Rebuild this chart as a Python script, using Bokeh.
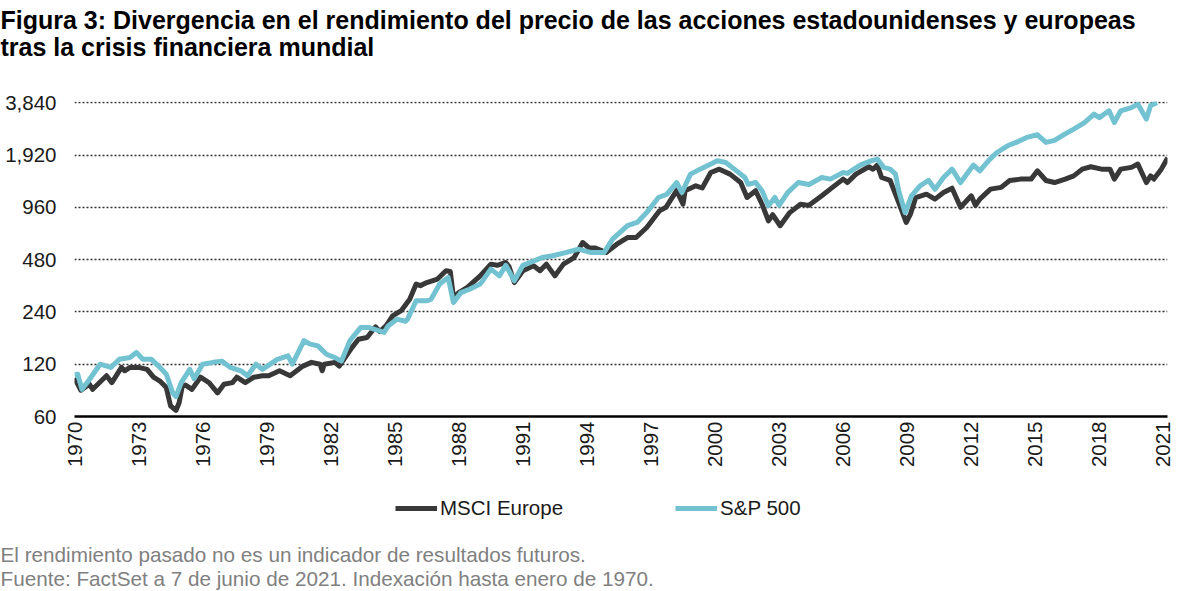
from math import pi

from bokeh.embed import file_html
from bokeh.layouts import column
from bokeh.models import FixedTicker
from bokeh.models import Legend
from bokeh.models import LegendItem
from bokeh.models import NumeralTickFormatter
from bokeh.models import Range1d
from bokeh.models import Title
from bokeh.plotting import figure
from bokeh.resources import INLINE

FONT = 'Liberation Sans'
EUROPE_COLOR = '#383838'
SP_COLOR = '#72c2d1'
NOTE_COLOR = '#808080'

TITLE_LINES = ['Figura 3: Divergencia en el rendimiento del precio de las acciones estadounidenses y europeas',
               'tras la crisis financiera mundial']
FOOTNOTES = ['El rendimiento pasado no es un indicador de resultados futuros.',
             'Fuente: FactSet a 7 de junio de 2021. Indexación hasta enero de 1970.']
SERIES_NAMES = ['MSCI Europe', 'S&P 500']

X_TICKS = list(range(1970, 2022, 3))
Y_TICKS = [60, 120, 240, 480, 960, 1920, 3840]

EUROPE_YEARS = [1970.0, 1970.3, 1970.7, 1970.85, 1971.5, 1971.75, 1972.2, 1972.35, 1972.6, 1973.0,
                1973.4, 1973.7, 1974.0, 1974.3, 1974.5, 1974.75, 1974.9, 1975.05, 1975.2, 1975.5,
                1975.9, 1976.3, 1976.7, 1977.0, 1977.4, 1977.6, 1978.0, 1978.4, 1978.8, 1979.1,
                1979.6, 1980.1, 1980.7, 1981.1, 1981.5, 1981.6, 1981.7, 1982.2, 1982.4, 1983.0,
                1983.3, 1983.7, 1984.1, 1984.3, 1984.6, 1984.9, 1985.3, 1985.7, 1986.0, 1986.2,
                1986.5, 1987.0, 1987.4, 1987.6, 1987.75, 1988.0, 1988.4, 1989.0, 1989.5, 1989.8,
                1990.2, 1990.35, 1990.6, 1991.0, 1991.5, 1991.8, 1992.1, 1992.5, 1992.9, 1993.4,
                1993.8, 1994.1, 1994.4, 1994.9, 1995.4, 1995.9, 1996.3, 1996.8, 1997.4, 1997.7,
                1998.2, 1998.5, 1998.6, 1999.1, 1999.4, 1999.8, 2000.2, 2000.7, 2001.2, 2001.5,
                2001.9, 2002.2, 2002.5, 2002.7, 2003.05, 2003.5, 2004.0, 2004.4, 2005.0, 2005.5,
                2006.0, 2006.2, 2006.6, 2007.2, 2007.4, 2007.6, 2007.8, 2008.2, 2008.45, 2008.75,
                2008.95, 2009.15, 2009.4, 2009.9, 2010.3, 2010.7, 2011.1, 2011.5, 2012.0, 2012.2,
                2012.4, 2012.9, 2013.4, 2013.8, 2014.3, 2014.8, 2015.1, 2015.5, 2015.9, 2016.4,
                2016.8, 2017.2, 2017.6, 2018.1, 2018.5, 2018.7, 2019.0, 2019.5, 2019.8, 2020.2,
                2020.4, 2020.55, 2020.9, 2021.2]
EUROPE_VALUES = [100, 85, 92, 86, 103, 94, 115, 110, 115, 115,
                 112, 101, 96, 88, 69, 65, 72, 90, 91, 86,
                 101, 94, 82, 92, 94, 101, 94, 101, 103, 103,
                 110, 103, 117, 123, 120, 110, 120, 123, 117, 150,
                 167, 171, 197, 185, 200, 228, 244, 284, 347, 340,
                 354, 371, 414, 410, 290, 310, 332, 387, 452, 445,
                 462, 438, 354, 414, 442, 414, 452, 387, 452, 493,
                 602, 560, 560, 527, 589, 643, 643, 735, 916, 960,
                 1196, 1000, 1196, 1276, 1240, 1523, 1592, 1490, 1333, 1093,
                 1196, 1000, 802, 870, 752, 895, 1000, 985, 1118, 1250,
                 1395, 1333, 1490, 1643, 1590, 1680, 1425, 1370, 1142, 916,
                 785, 877, 1093, 1142, 1070, 1167, 1237, 960, 1118, 985,
                 1070, 1222, 1250, 1370, 1395, 1395, 1557, 1370, 1333, 1395,
                 1456, 1592, 1643, 1592, 1592, 1395, 1592, 1630, 1702, 1333,
                 1456, 1395, 1592, 1850]

SP_YEARS = [1970.0, 1970.15, 1970.35, 1970.65, 1971.2, 1971.7, 1972.1, 1972.6, 1972.9, 1973.2,
            1973.6, 1974.0, 1974.3, 1974.6, 1974.75, 1975.0, 1975.4, 1975.6, 1976.0, 1976.5,
            1976.9, 1977.3, 1977.8, 1978.1, 1978.5, 1978.8, 1979.5, 1980.0, 1980.2, 1980.75,
            1981.0, 1981.4, 1981.8, 1982.2, 1982.5, 1982.9, 1983.4, 1983.8, 1984.5, 1984.7,
            1985.1, 1985.5, 1985.6, 1986.0, 1986.5, 1986.7, 1987.1, 1987.5, 1987.75, 1988.1,
            1988.5, 1989.0, 1989.5, 1989.9, 1990.2, 1990.6, 1991.0, 1991.9, 1992.4, 1993.0,
            1993.6, 1994.2, 1994.8, 1995.2, 1995.9, 1996.35, 1996.8, 1997.35, 1997.75, 1998.2,
            1998.45, 1998.85, 1999.3, 1999.8, 2000.1, 2000.5, 2000.9, 2001.4, 2001.55, 2001.9,
            2002.2, 2002.5, 2002.8, 2003.0, 2003.4, 2003.9, 2004.4, 2005.0, 2005.4, 2006.0,
            2006.2, 2006.8, 2007.3, 2007.6, 2007.9, 2008.2, 2008.45, 2008.6, 2008.9, 2009.2,
            2009.6, 2010.0, 2010.3, 2010.7, 2011.1, 2011.5, 2012.1, 2012.4, 2012.8, 2013.2,
            2013.7, 2014.1, 2014.6, 2015.1, 2015.5, 2015.9, 2016.4, 2016.8, 2017.3, 2017.75,
            2018.0, 2018.45, 2018.7, 2019.0, 2019.5, 2019.8, 2020.2, 2020.4, 2020.7]
SP_VALUES = [104, 105, 86, 96, 120, 115, 128, 131, 140, 128,
             128, 115, 105, 82, 78, 94, 112, 99, 120, 123,
             125, 115, 110, 103, 120, 112, 128, 134, 120, 164,
             157, 153, 137, 131, 125, 164, 195, 195, 183, 200,
             218, 212, 218, 278, 278, 284, 347, 379, 272, 310,
             324, 347, 423, 387, 445, 362, 445, 493, 505, 527,
             551, 527, 527, 630, 752, 785, 896, 1093, 1142, 1333,
             1167, 1490, 1592, 1702, 1778, 1740, 1592, 1425, 1300, 1333,
             1196, 980, 1093, 985, 1167, 1333, 1300, 1425, 1395, 1523,
             1505, 1680, 1778, 1818, 1630, 1592, 1490, 1196, 895, 1118,
             1276, 1370, 1220, 1425, 1592, 1333, 1680, 1557, 1778, 1985,
             2170, 2268, 2424, 2510, 2268, 2330, 2540, 2706, 2952, 3300,
             3150, 3450, 2952, 3450, 3600, 3770, 3090, 3700, 3840]

FRAME_LEFT = 74
FRAME_RIGHT_GAP = 8
FRAME_WIDTH = 1093


def add_title(plot, text, size, standoff, color='black', bold=False):
  # side panel titles stack outward from the frame in the order they are added
  plot.add_layout(Title(text=text, align='left', offset=-FRAME_LEFT, standoff=standoff,
                        text_font=FONT, text_font_size=size, text_color=color,
                        text_font_style='bold' if bold else 'normal'), 'above')


def blank_figure(frame_height) -> figure:
  plot = figure(frame_width=FRAME_WIDTH, frame_height=frame_height, output_backend='svg',
                toolbar_location=None, x_range=Range1d(0, 1), y_range=Range1d(0, 1),
                x_axis_location=None, y_axis_location=None, min_border_left=FRAME_LEFT,
                min_border_right=FRAME_RIGHT_GAP, min_border_top=0, min_border_bottom=0)
  plot.outline_line_color = None
  plot.grid.visible = False
  return plot


def get_chart() -> figure:
  plot = figure(frame_width=FRAME_WIDTH, frame_height=315, output_backend='svg',
                toolbar_location=None, y_axis_type='log', x_range=Range1d(1970, 2021.19),
                y_range=Range1d(60, 3902), min_border_left=FRAME_LEFT,
                min_border_right=FRAME_RIGHT_GAP, min_border_top=0, min_border_bottom=56)
  plot.outline_line_color = None

  plot.line(EUROPE_YEARS, EUROPE_VALUES, line_color=EUROPE_COLOR, line_width=5, line_join='round')
  plot.line(SP_YEARS, SP_VALUES, line_color=SP_COLOR, line_width=5, line_join='round')

  plot.xgrid.grid_line_color = None
  plot.ygrid.grid_line_color = '#303030'
  plot.ygrid.grid_line_dash = '2 2'
  plot.ygrid.grid_line_width = 1.5

  plot.yaxis.ticker = FixedTicker(ticks=Y_TICKS)
  plot.yaxis.formatter = NumeralTickFormatter(format='0,0')
  plot.yaxis.axis_line_color = None
  plot.yaxis.major_label_standoff = 18

  plot.xaxis.ticker = FixedTicker(ticks=X_TICKS)
  plot.xaxis.formatter = NumeralTickFormatter(format='0')
  plot.xaxis.axis_line_color = 'black'
  plot.xaxis.axis_line_width = 2.5
  plot.xaxis.major_label_orientation = pi / 2
  plot.xaxis.major_label_standoff = 5

  for axis in (plot.xaxis, plot.yaxis):
    axis.major_tick_line_color = None
    axis.minor_tick_line_color = None
    axis.major_tick_out = 0
    axis.major_tick_in = 0
    axis.major_label_text_font = FONT
    axis.major_label_text_font_size = '20.5px'
    axis.major_label_text_color = '#1a1a1a'

  # an almost empty spacer sits between the frame and the two title lines
  add_title(plot, ' ', '1px', 43.9)
  add_title(plot, TITLE_LINES[1], '25px', -12.6, bold=True)
  add_title(plot, TITLE_LINES[0], '25px', 6.8, bold=True)
  return plot


def get_legend_strip() -> figure:
  strip = blank_figure(60)
  # same series again, outside this strip's ranges, so only their legend keys show
  europe_key = strip.line(EUROPE_YEARS, EUROPE_VALUES, line_color=EUROPE_COLOR, line_width=5)
  sp_key = strip.line(SP_YEARS, SP_VALUES, line_color=SP_COLOR, line_width=5)
  legend = Legend(items=[LegendItem(label=SERIES_NAMES[0], renderers=[europe_key]),
                         LegendItem(label=SERIES_NAMES[1], renderers=[sp_key])],
                  location=(395 - FRAME_LEFT, 12), orientation='horizontal', spacing=112,
                  glyph_width=42, glyph_height=20, label_standoff=3, padding=0, margin=0,
                  border_line_color=None, background_fill_alpha=0,
                  label_text_font=FONT, label_text_font_size='20.5px', label_text_color='#1a1a1a')
  strip.add_layout(legend, 'center')
  return strip


def get_notes() -> figure:
  # the frame is an empty strip under the notes that leaves room for descenders
  notes = blank_figure(11)
  add_title(notes, FOOTNOTES[1], '20.7px', -18.8, color=NOTE_COLOR)
  add_title(notes, FOOTNOTES[0], '20.7px', 16.6, color=NOTE_COLOR)
  return notes


def main():
  page = column(get_chart(), get_legend_strip(), get_notes(), spacing=0)
  with open('out.html', 'w') as f:
    f.write(file_html(page, INLINE))


if __name__ == '__main__':
  main()
